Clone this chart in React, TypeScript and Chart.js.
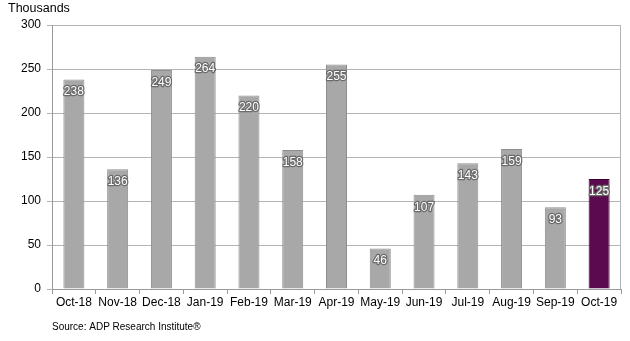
import React, { useEffect, useRef } from "react";
import { Chart, registerables } from "chart.js";

Chart.register(...registerables);

const categories = ["Oct-18", "Nov-18", "Dec-18", "Jan-19", "Feb-19", "Mar-19", "Apr-19", "May-19", "Jun-19", "Jul-19", "Aug-19", "Sep-19", "Oct-19"];
const values = [238, 136, 249, 264, 220, 158, 255, 46, 107, 143, 159, 93, 125];
const yTicks = [0, 50, 100, 150, 200, 250, 300];
const unitLabel = "Thousands";
const sourceLabel = "Source: ADP Research Institute®";

const GRAY = "#a8a8a8";
const GRAY_BORDER = "#8e8e8e";
const PURPLE = "#5b0a4f";
const PURPLE_BORDER = "#3a0232";
const FONT = "'Liberation Sans', Arial, sans-serif";

const labelPlugin = {
  id: "extraText",
  beforeDatasetsDraw(chart: any) {
    const { ctx, chartArea } = chart;
    ctx.save();
    ctx.strokeStyle = "#b4b4b4";
    ctx.lineWidth = 1;
    ctx.beginPath();
    ctx.moveTo(Math.round(chartArea.right) - 0.5, chartArea.top);
    ctx.lineTo(Math.round(chartArea.right) - 0.5, chartArea.bottom);
    ctx.stroke();
    ctx.restore();
  },
  afterDatasetsDraw(chart: any) {
    const ctx = chart.ctx;
    const meta = chart.getDatasetMeta(0);
    ctx.save();
    ctx.font = `12px ${FONT}`;
    ctx.textAlign = "center";
    ctx.textBaseline = "middle";
    ctx.lineJoin = "round";
    meta.data.forEach((bar: any, i: number) => {
      const txt = String(values[i]);
      const x = bar.x;
      const y = bar.y + 12.5;
      ctx.lineWidth = 2.5;
      ctx.strokeStyle = "#6a6a6a";
      ctx.strokeText(txt, x, y);
      ctx.fillStyle = "#ffffff";
      ctx.fillText(txt, x, y);
    });
    ctx.fillStyle = "#000000";
    ctx.textAlign = "left";
    ctx.font = `12.5px ${FONT}`;
    ctx.fillText(unitLabel, 8, 9);
    ctx.font = `10px ${FONT}`;
    ctx.fillText(sourceLabel, 52, 327);
    ctx.restore();
  },
};

export default function App() {
  const ref = useRef<HTMLCanvasElement>(null);
  useEffect(() => {
    if (!ref.current) return;
    const chart = new Chart(ref.current, {
      type: "bar",
      data: {
        labels: categories,
        datasets: [
          {
            data: values,
            backgroundColor: values.map((_, i) => (i === values.length - 1 ? PURPLE : GRAY)),
            borderColor: values.map((_, i) => (i === values.length - 1 ? PURPLE_BORDER : GRAY_BORDER)),
            borderWidth: 1,
            barPercentage: 0.48,
            categoryPercentage: 1,
          },
        ],
      },
      options: {
        animation: false,
        responsive: false,
        maintainAspectRatio: false,
        layout: { padding: { top: 25, right: 9, bottom: 22, left: 0 } },
        plugins: { legend: { display: false }, tooltip: { enabled: false }, title: { display: false } },
        scales: {
          x: {
            grid: { display: true, drawOnChartArea: false, drawTicks: true, tickLength: 5, color: "#999999", offset: true },
            border: { color: "#999999" },
            ticks: { color: "#000000", font: { family: FONT, size: 12 }, padding: 1, maxRotation: 0, autoSkip: false },
            afterFit: (s: any) => { s.height = 30; },
          },
          y: {
            min: 0,
            max: 300,
            afterBuildTicks: (s: any) => { s.ticks = yTicks.map((v) => ({ value: v })); },
            grid: { color: "#b4b4b4", tickLength: 5, drawTicks: true },
            border: { color: "#999999" },
            ticks: { color: "#000000", font: { family: FONT, size: 12 }, padding: 6 },
            afterFit: (s: any) => { s.width = 52; },
          },
        },
      },
      plugins: [labelPlugin],
    });
    return () => chart.destroy();
  }, []);
  return (
    <div style={{ position: "fixed", left: 0, top: 0, width: 630, height: 341, background: "#fff" }}>
      <canvas ref={ref} width={630} height={341} style={{ width: 630, height: 341 }} />
    </div>
  );
}
